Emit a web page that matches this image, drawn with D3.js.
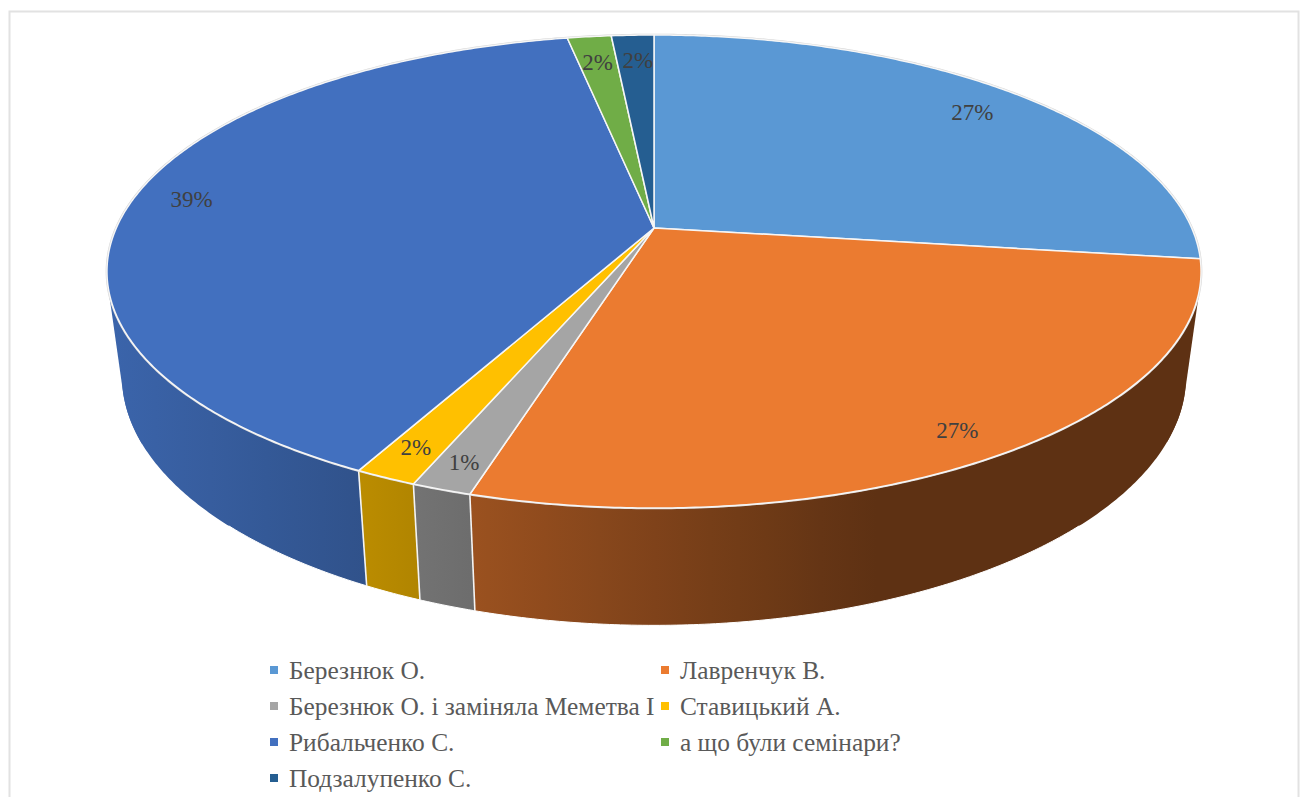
<!DOCTYPE html>
<html><head><meta charset="utf-8">
<script src="https://cdn.jsdelivr.net/npm/d3@7"></script>
<style>html,body{margin:0;padding:0;background:#fff;overflow:hidden}svg{display:block}</style>
</head><body><svg id="c" width="1305" height="797"></svg>
<script>
const categories = ["Березнюк О.","Лавренчук В.","Березнюк О. і заміняла Меметва І","Ставицький А.","Рибальченко С.","а що були семінари?","Подзалупенко С."];
const values = [27.1,27.45,1.5,1.55,39.35,1.55,1.5];
const labels = ["27%","27%","1%","2%","39%","2%","2%"];
const colors = ["#5A98D4","#EB7B30","#A5A5A5","#FFC000","#4270BF","#70AD47","#255E91"];
const labelNudge = [[-5,5],[3,7],[-6,2],[-6,-3],[-2,0],[2,0],[3,0]];
const lightX = [100,870,1210];
const lightF = [0.90,0.40,0.40];

const W=1305,H=797;
const svg=d3.select("#c");
const defs=svg.append("defs");
svg.append("rect").attr("x",9.5).attr("y",11.5).attr("width",1289).attr("height",800).attr("fill","#fff").attr("stroke","#e2e2e2").attr("stroke-width",2);

const k=0.184;
const top_={cx:654,cy:228,R:537.7,S:228.5};
const low_={cx:654,cy:330,R:523,S:241};
function proj(p,theta,r=1){
  const u=r*Math.sin(theta),v=r*Math.cos(theta),w=1+k*v;
  return [p.cx+p.R*u/w,p.cy-p.S*v/w];
}
const pie=d3.pie().sort(null).value(d=>d)(values);
const color=d3.scaleOrdinal().domain(d3.range(values.length)).range(colors);
const light=d3.scaleLinear().domain(lightX).range(lightF);
const line=d3.line();
const step=Math.PI/360;
const arcAngles=(a,b)=>{const n=Math.max(2,Math.ceil((b-a)/step));return d3.range(n+1).map(i=>a+(b-a)*i/n);};

pie.forEach((d,i)=>{
  const g=defs.append("linearGradient").attr("id","w"+i).attr("gradientUnits","userSpaceOnUse")
    .attr("x1",100).attr("x2",1210).attr("y1",0).attr("y2",0);
  const base=d3.rgb(color(i));
  d3.range(0,1.0001,0.05).forEach(t=>{
    const f=light(100+1110*t);
    g.append("stop").attr("offset",t).attr("stop-color",d3.rgb(base.r*f,base.g*f,base.b*f).formatHex());
  });
});

const walls=svg.append("g");
pie.forEach((d,i)=>{
  const as=arcAngles(d.startAngle,d.endAngle);
  const side=as.filter(t=>Math.abs(Math.sin(t))>0.9);
  if(side.length>2){
    const hull=d3.polygonHull(side.map(t=>proj(top_,t)).concat(side.map(t=>proj(low_,t))));
    walls.append("path").attr("d",line(hull)+"Z").attr("fill",`url(#w${i})`);
  }
  const pts=as.map(t=>proj(top_,t)).concat(as.slice().reverse().map(t=>proj(low_,t)));
  walls.append("path").attr("d",line(pts)+"Z").attr("fill",`url(#w${i})`);
});
// bottom rim highlight on the front of the wall
const front=arcAngles(Math.PI*0.75,Math.PI*1.25);
walls.append("path").attr("d",line(front.map(t=>proj(low_,t)))).attr("fill","none").attr("stroke","#ffffff").attr("stroke-width",1);
// dividing edges on the visible part of the wall
pie.filter(d=>Math.cos(d.endAngle)<-0.2).forEach(d=>{
  walls.append("path").attr("d",line([proj(top_,d.endAngle),proj(low_,d.endAngle)]))
    .attr("stroke","#f4f4f4").attr("stroke-width",1.6).attr("fill","none");
});

// top face
const rim=arcAngles(0,2*Math.PI);
svg.append("path").attr("d",line(rim.map(t=>proj(top_,t)))+"Z").attr("fill","none").attr("stroke","#d8d8d8").attr("stroke-width",2.6);
svg.append("g").selectAll("path").data(pie).join("path")
  .attr("d",d=>line([[top_.cx,top_.cy]].concat(arcAngles(d.startAngle,d.endAngle).map(t=>proj(top_,t))))+"Z")
  .attr("fill",(d,i)=>color(i)).attr("stroke","#f6f6f6").attr("stroke-width",1.5).attr("stroke-linejoin","round");

// data labels
svg.append("g").selectAll("text").data(pie).join("text")
  .attr("x",d=>proj(top_,(d.startAngle+d.endAngle)/2,0.885)[0]+labelNudge[d.index][0])
  .attr("y",d=>proj(top_,(d.startAngle+d.endAngle)/2,0.885)[1]+(values[d.index]<2?14:7)+labelNudge[d.index][1])
  .attr("text-anchor","middle").attr("font-family","'Liberation Serif',serif").attr("font-size",23).attr("fill","#404040")
  .text(d=>labels[d.index]);

// legend
const col=d3.scaleOrdinal().domain([0,1]).range([270,661]);
const row=d3.scaleBand().domain(d3.range(4)).range([653,797]);
const lg=svg.append("g").selectAll("g").data(categories).join("g")
  .attr("transform",(d,i)=>`translate(${col(i%2)},${row(Math.floor(i/2))+row.bandwidth()/2})`);
lg.append("rect").attr("x",0).attr("y",-5).attr("width",8).attr("height",8).attr("fill",(d,i)=>color(i));
lg.append("text").attr("x",19).attr("y",8).attr("font-family","'Liberation Serif',serif").attr("font-size",25.4).attr("fill","#595959").text(d=>d);
</script></body></html>
